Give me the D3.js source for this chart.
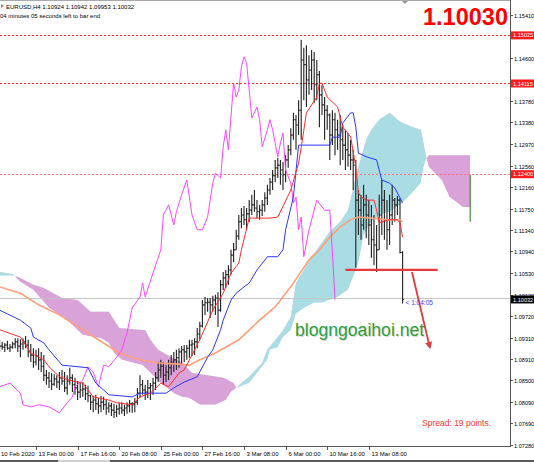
<!DOCTYPE html>
<html><head><meta charset="utf-8">
<script src="https://cdn.jsdelivr.net/npm/d3@7"></script>
<style>html,body{margin:0;padding:0;background:#fff;overflow:hidden}</style>
</head><body><svg id="c" width="534" height="462"></svg>
<script>
// ---------- DATA ----------
// H4 bars, index 0..155 : [open, high, low, close]
const bars = [
[1.0919,1.0927,1.0904,1.0915],[1.0915,1.0923,1.0908,1.0913],[1.0913,1.0921,1.0904,1.0917],[1.0917,1.0925,1.0908,1.0911],
[1.0911,1.0919,1.0904,1.0913],[1.0913,1.0923,1.0910,1.0919],[1.0919,1.0930,1.0911,1.0923],[1.0923,1.0930,1.0904,1.0915],
[1.0915,1.0928,1.0894,1.0919],[1.0919,1.0930,1.0908,1.0923],[1.0923,1.0934,1.0911,1.0917],[1.0917,1.0927,1.0894,1.0904],
[1.0904,1.0919,1.0885,1.0898],[1.0898,1.0911,1.0874,1.0885],[1.0885,1.0908,1.0879,1.0896],[1.0896,1.0911,1.0870,1.0889],
[1.0889,1.0904,1.0866,1.0877],[1.0877,1.0898,1.0849,1.0860],[1.0860,1.0870,1.0842,1.0855],[1.0855,1.0866,1.0836,1.0849],
[1.0849,1.0864,1.0832,1.0843],[1.0843,1.0862,1.0840,1.0853],[1.0853,1.0860,1.0836,1.0847],[1.0847,1.0866,1.0832,1.0855],
[1.0855,1.0870,1.0842,1.0849],[1.0849,1.0866,1.0828,1.0836],[1.0836,1.0860,1.0823,1.0849],[1.0849,1.0874,1.0842,1.0855],
[1.0855,1.0862,1.0828,1.0842],[1.0842,1.0855,1.0823,1.0836],[1.0836,1.0849,1.0813,1.0828],[1.0828,1.0845,1.0817,1.0832],
[1.0832,1.0847,1.0819,1.0834],[1.0834,1.0842,1.0813,1.0825],[1.0825,1.0840,1.0809,1.0821],[1.0821,1.0823,1.0794,1.0809],
[1.0809,1.0821,1.0790,1.0813],[1.0813,1.0823,1.0794,1.0806],[1.0806,1.0817,1.0787,1.0802],[1.0802,1.0821,1.0790,1.0809],
[1.0809,1.0819,1.0794,1.0804],[1.0804,1.0813,1.0785,1.0798],[1.0798,1.0809,1.0789,1.0802],[1.0802,1.0808,1.0783,1.0794],
[1.0794,1.0806,1.0779,1.0790],[1.0790,1.0804,1.0781,1.0796],[1.0796,1.0808,1.0785,1.0798],[1.0798,1.0809,1.0787,1.0794],
[1.0794,1.0804,1.0783,1.0798],[1.0798,1.0809,1.0787,1.0802],[1.0802,1.0813,1.0790,1.0806],[1.0806,1.0809,1.0789,1.0804],
[1.0804,1.0817,1.0790,1.0809],[1.0809,1.0836,1.0804,1.0826],[1.0826,1.0860,1.0817,1.0842],[1.0842,1.0851,1.0823,1.0832],
[1.0832,1.0842,1.0813,1.0828],[1.0828,1.0851,1.0817,1.0836],[1.0836,1.0845,1.0813,1.0840],[1.0840,1.0855,1.0823,1.0845],
[1.0845,1.0866,1.0832,1.0855],[1.0855,1.0885,1.0847,1.0870],[1.0870,1.0889,1.0855,1.0877],[1.0877,1.0885,1.0842,1.0860],
[1.0860,1.0879,1.0847,1.0866],[1.0866,1.0889,1.0851,1.0874],[1.0874,1.0898,1.0860,1.0885],[1.0885,1.0904,1.0866,1.0889],
[1.0889,1.0908,1.0870,1.0893],[1.0893,1.0911,1.0874,1.0904],[1.0904,1.0915,1.0879,1.0908],[1.0908,1.0917,1.0885,1.0904],
[1.0904,1.0917,1.0889,1.0911],[1.0911,1.0927,1.0893,1.0917],[1.0917,1.0927,1.0896,1.0919],[1.0919,1.0930,1.0898,1.0923],
[1.0923,1.0949,1.0911,1.0938],[1.0938,1.0961,1.0927,1.0953],[1.0953,1.1002,1.0950,1.0993],[1.0993,1.1008,1.0974,1.0997],
[1.0997,1.1006,1.0980,1.0998],[1.0998,1.1006,1.0968,1.0993],[1.0993,1.1010,1.0980,1.1002],[1.1002,1.1012,1.0974,1.1006],
[1.1006,1.1017,1.0951,1.0983],[1.0983,1.1040,1.0980,1.1031],[1.1031,1.1055,1.1021,1.1044],[1.1044,1.1059,1.1025,1.1050],
[1.1050,1.1068,1.1031,1.1059],[1.1059,1.1097,1.1050,1.1087],[1.1087,1.1110,1.1074,1.1097],[1.1097,1.1135,1.1097,1.1123],
[1.1123,1.1163,1.1116,1.1150],[1.1150,1.1176,1.1138,1.1163],[1.1163,1.1180,1.1144,1.1154],[1.1154,1.1176,1.1135,1.1165],
[1.1165,1.1191,1.1150,1.1172],[1.1172,1.1201,1.1163,1.1182],[1.1182,1.1210,1.1169,1.1176],[1.1176,1.1191,1.1157,1.1169],
[1.1169,1.1182,1.1154,1.1172],[1.1172,1.1191,1.1161,1.1182],[1.1182,1.1206,1.1169,1.1195],[1.1195,1.1220,1.1182,1.1210],
[1.1210,1.1233,1.1201,1.1225],[1.1225,1.1248,1.1210,1.1237],[1.1237,1.1267,1.1225,1.1252],[1.1252,1.1271,1.1233,1.1257],
[1.1257,1.1267,1.1220,1.1248],[1.1248,1.1263,1.1210,1.1239],[1.1239,1.1276,1.1225,1.1267],[1.1267,1.1295,1.1252,1.1286],
[1.1286,1.1327,1.1276,1.1314],[1.1314,1.1356,1.1305,1.1343],[1.1343,1.1352,1.1286,1.1333],[1.1333,1.1380,1.1314,1.1361],
[1.1361,1.1494,1.1305,1.1456],[1.1456,1.1479,1.1380,1.1447],[1.1447,1.1484,1.1367,1.1418],[1.1418,1.1465,1.1390,1.1437],
[1.1437,1.1475,1.1399,1.1456],[1.1456,1.1471,1.1375,1.1409],[1.1409,1.1456,1.1380,1.1428],[1.1428,1.1435,1.1329,1.1390],
[1.1390,1.1409,1.1352,1.1371],[1.1371,1.1386,1.1305,1.1361],[1.1361,1.1371,1.1324,1.1352],[1.1352,1.1355,1.1267,1.1314],
[1.1314,1.1361,1.1295,1.1343],[1.1343,1.1356,1.1276,1.1324],[1.1324,1.1343,1.1286,1.1314],[1.1314,1.1352,1.1257,1.1305],
[1.1305,1.1333,1.1267,1.1295],[1.1295,1.1324,1.1248,1.1286],[1.1286,1.1318,1.1254,1.1276],[1.1276,1.1305,1.1248,1.1267],
[1.1267,1.1286,1.1210,1.1257],[1.1257,1.1267,1.1063,1.1191],[1.1191,1.1210,1.1125,1.1172],[1.1172,1.1201,1.1116,1.1144],
[1.1144,1.1220,1.1135,1.1182],[1.1182,1.1201,1.1119,1.1163],[1.1163,1.1191,1.1106,1.1144],[1.1144,1.1182,1.1082,1.1116],
[1.1116,1.1163,1.1068,1.1106],[1.1106,1.1144,1.1055,1.1097],[1.1097,1.1201,1.1097,1.1163],[1.1163,1.1229,1.1125,1.1191],
[1.1191,1.1210,1.1116,1.1154],[1.1154,1.1191,1.1097,1.1135],[1.1135,1.1201,1.1106,1.1163],[1.1163,1.1220,1.1144,1.1191],
[1.1191,1.1195,1.1150,1.1182],[1.1182,1.1199,1.1163,1.1191],[1.1191,1.1195,1.1090,1.1092],[1.10924,1.10942,1.09953,1.10032]
];
// Ichimoku & MA readings: [barIndex, price]
const tenkan = [[0,1.0946],[8,1.0932],[12,1.0902],[17,1.0889],[19,1.0876],[23,1.0857],[28,1.0849],[32,1.0845],[36,1.0819],[42,1.0813],[45,1.0808],[51,1.0804],[54,1.0819],[58,1.0826],[62,1.0845],[65,1.0838],[69,1.0864],[71,1.0870],[77,1.0927],[82,1.0983],[86,1.1015],[89,1.1053],[92,1.1072],[93,1.1097],[96,1.1157],[104,1.1157],[107,1.1159],[112,1.1210],[115,1.1261],[116,1.1290],[118,1.1356],[122,1.1386],[123,1.1412],[124,1.1412],[126,1.1386],[130,1.1367],[132,1.1329],[135,1.1311],[137,1.1254],[138,1.1205],[139,1.1197],[141,1.1191],[144,1.1191],[145,1.1172],[146,1.1148],[150,1.1154],[153,1.1154],[154,1.1148],[155,1.1121]];
const kijun = [[0,1.0983],[8,1.0964],[12,1.0949],[13,1.0932],[17,1.0921],[19,1.0908],[24,1.0879],[34,1.0874],[37,1.0845],[40,1.0832],[42,1.0823],[51,1.0819],[54,1.0826],[64,1.0826],[67,1.0836],[71,1.0847],[76,1.0857],[80,1.0894],[82,1.0908],[85,1.0946],[86,1.0964],[89,1.1002],[91,1.1015],[94,1.1027],[96,1.1034],[99,1.1059],[103,1.1084],[107,1.1084],[109,1.1097],[110,1.1135],[113,1.1197],[115,1.1295],[127,1.1295],[128,1.1310],[131,1.1310],[132,1.1337],[135,1.1356],[136,1.1356],[137,1.1329],[138,1.1280],[141,1.1273],[145,1.1267],[146,1.1248],[147,1.1229],[150,1.1223],[152,1.1214],[155,1.1186]];
const chikou = [[0,1.0838],[4,1.0845],[8,1.0826],[9,1.0804],[12,1.0800],[15,1.0804],[19,1.0800],[23,1.0789],[26,1.0808],[28,1.0819],[29,1.0838],[32,1.0851],[34,1.0876],[36,1.0866],[38,1.0838],[40,1.0879],[42,1.0876],[45,1.0894],[47,1.0908],[49,1.0940],[51,1.0987],[54,1.1008],[55,1.1034],[56,1.1008],[59,1.1053],[62,1.1097],[63,1.1163],[65,1.1182],[67,1.1144],[68,1.1169],[70,1.1201],[72,1.1229],[74,1.1163],[76,1.1135],[78,1.1135],[80,1.1159],[82,1.1223],[83,1.1242],[85,1.1233],[86,1.1292],[87,1.1324],[88,1.1286],[90,1.1412],[91,1.1386],[92,1.1399],[93,1.1443],[94,1.1462],[95,1.1450],[96,1.1399],[97,1.1346],[99,1.1367],[100,1.1343],[101,1.1292],[103,1.1324],[104,1.1343],[105,1.1324],[107,1.1273],[108,1.1299],[109,1.1318],[110,1.1248],[112,1.1223],[113,1.1186],[114,1.1197],[115,1.1135],[116,1.1159],[117,1.1084],[119,1.1135],[122,1.1191],[125,1.1172],[127,1.1172],[128,1.1093],[129,1.1003]];
const maSlow = [[0,1.1027],[8,1.1015],[15,1.0993],[23,1.0974],[31,1.0949],[38,1.0927],[46,1.0902],[54,1.0889],[61,1.0883],[69,1.0881],[73,1.0879],[77,1.0889],[83,1.0902],[92,1.0927],[100,1.0964],[106,1.0989],[113,1.1034],[119,1.1078],[123,1.1097],[127,1.1121],[131,1.1140],[135,1.1154],[138,1.1159],[143,1.1157],[149,1.1154],[154,1.1154],[155,1.1150]];
const senkouA = [[0,1.1055],[5,1.1051],[8,1.1036],[13,1.1021],[19,1.0987],[26,1.0964],[32,1.0936],[39,1.0930],[42,1.0921],[44,1.0902],[47,1.0889],[55,1.0879],[62,1.0845],[67,1.0826],[70,1.0819],[73,1.0817],[77,1.0804],[83,1.0804],[87,1.0813],[89,1.0828],[91,1.0836],[93,1.0845],[96,1.0857],[101,1.0883],[103,1.0908],[107,1.0932],[109,1.0945],[112,1.0970],[114,1.1034],[117,1.1059],[120,1.1084],[122,1.1097],[127,1.1131],[131,1.1150],[134,1.1172],[135,1.1191],[137,1.1235],[141,1.1305],[143,1.1324],[146,1.1343],[150,1.1356],[153,1.1343],[155,1.1337],[159,1.1329],[162,1.1324],[163,1.1299],[164,1.1273],[165,1.1254],[170,1.1229],[173,1.1197],[176,1.1186],[178,1.1178],[181,1.1178]];
const senkouB = [[0,1.1048],[5,1.1048],[7,1.1046],[13,1.1031],[17,1.1025],[24,1.1006],[30,1.1002],[35,1.0980],[42,1.0980],[46,1.0949],[56,1.0945],[58,1.0927],[61,1.0908],[66,1.0894],[70,1.0885],[74,1.0864],[80,1.0860],[86,1.0855],[90,1.0845],[91,1.0836],[96,1.0845],[103,1.0889],[104,1.0908],[107,1.0913],[109,1.0932],[112,1.0945],[114,1.0976],[117,1.0987],[121,1.0997],[124,1.0997],[130,1.1008],[134,1.1021],[136,1.1046],[138,1.1072],[139,1.1097],[140,1.1125],[143,1.1150],[146,1.1163],[150,1.1169],[154,1.1182],[158,1.1201],[162,1.1223],[163,1.1252],[164,1.1267],[165,1.1276],[180,1.1276],[181,1.1276]];
const senkouTail = [[181,1.1239],[181,1.1150]];
// levels
const levelLines = [1.15025, 1.14115];
const levelDotted = [1.12400];
const currentPrice = 1.10032;
const bigPrice = "1.10030";
const priceTicks = ["1.15410","1.14600","1.13780","1.13380","1.12970","1.12560","1.12160","1.11750","1.11340","1.10940","1.10530","1.10120","1.09720","1.09310","1.08910","1.08500","1.08090","1.07690","1.07280"];
const timeTickIdx = [-2,14,30,46,62,78,94,110,126,142];
const timeLabels = ["10 Feb 2020","13 Feb 00:00","17 Feb 16:00","20 Feb 08:00","25 Feb 00:00","27 Feb 16:00","3 Mar 08:00","6 Mar 00:00","10 Mar 16:00","13 Mar 08:00"];
const supportLine = [[133,1.1059],[168.5,1.1059]];
const arrowLine = [[158.6,1.1055],[165.5,1.0912]];

// ---------- DRAW ----------
const svg = d3.select("#c");
const x = d3.scaleLinear().domain([0,155]).range([-0.4,402.6]);
const y = d3.scaleLinear().domain([1.15410,1.07280]).range([15,445]);
const PR = 510, PB = 446;
const FONT = "'Liberation Sans', Arial, sans-serif";

const defs = svg.append("defs");
defs.append("clipPath").attr("id","plot").append("rect").attr("x",0).attr("y",0).attr("width",PR).attr("height",PB);
const P = d3.line().x(d=>x(d[0])).y(d=>y(d[1]));
const rawLine = d3.line();
const Apts = senkouA.map(d=>[x(d[0]),y(d[1])]);
const Bpts = senkouB.map(d=>[x(d[0]),y(d[1])]);
const poly = rawLine(Apts.concat(Bpts.slice().reverse()))+"Z";
defs.append("clipPath").attr("id","aboveB").append("path")
  .attr("d", rawLine([[Bpts[0][0],-10]].concat(Bpts,[[Bpts[Bpts.length-1][0],-10]]))+"Z");
defs.append("clipPath").attr("id","aboveA").append("path")
  .attr("d", rawLine([[Apts[0][0],-10]].concat(Apts,[[Apts[Apts.length-1][0],-10]]))+"Z");
const mk = defs.append("marker").attr("id","ah").attr("viewBox","0 0 10 10").attr("refX",8).attr("refY",5)
  .attr("markerWidth",4).attr("markerHeight",4).attr("orient","auto");
mk.append("path").attr("d","M0,0L10,5L0,10Z").attr("fill","#e8383c");

svg.append("rect").attr("width",534).attr("height",462).attr("fill","#fff");
const plot = svg.append("g").attr("clip-path","url(#plot)");

// cloud
const cl = plot.append("g");
cl.append("g").attr("clip-path","url(#aboveB)").append("path").attr("d",poly).attr("fill","#a9dce3");
cl.append("g").attr("clip-path","url(#aboveA)").append("path").attr("d",poly).attr("fill","#d9a2d9");

// horizontal levels
plot.selectAll(".lvl").data(levelLines).join("line").attr("x1",0).attr("x2",PR)
  .attr("y1",d=>Math.round(y(d))+0.5).attr("y2",d=>Math.round(y(d))+0.5)
  .attr("stroke","#ff2020").attr("stroke-dasharray","2,2").attr("stroke-width",1);
plot.selectAll(".lvd").data(levelDotted).join("line").attr("x1",0).attr("x2",PR)
  .attr("y1",d=>Math.round(y(d))+0.5).attr("y2",d=>Math.round(y(d))+0.5)
  .attr("stroke","#ff7070").attr("stroke-dasharray","2,2").attr("stroke-width",1.2);
plot.append("line").attr("x1",0).attr("x2",PR).attr("y1",Math.round(y(currentPrice))-0.5).attr("y2",Math.round(y(currentPrice))-0.5)
  .attr("stroke","#c4c4c4").attr("stroke-width",1);

// bars
const bg = plot.append("g").attr("stroke","#1e1e1e").attr("stroke-width",1.1);
bg.selectAll(".hl").data(bars).join("line").attr("x1",(d,i)=>x(i)).attr("x2",(d,i)=>x(i)).attr("y1",d=>y(d[1])).attr("y2",d=>y(d[2]));
bg.selectAll(".op").data(bars).join("line").attr("x1",(d,i)=>x(i)-1.3).attr("x2",(d,i)=>x(i)).attr("y1",d=>y(d[0])).attr("y2",d=>y(d[0]));
bg.selectAll(".cp").data(bars).join("line").attr("x1",(d,i)=>x(i)).attr("x2",(d,i)=>x(i)+1.3).attr("y1",d=>y(d[3])).attr("y2",d=>y(d[3]));

// lines
const addLine = (data,color,w)=>plot.append("path").attr("d",P(data)).attr("fill","none").attr("stroke",color).attr("stroke-width",w);
addLine(maSlow,"#ff9f78",1.6);
addLine(chikou,"#ff44ff",1);
addLine(kijun,"#2b35ff",1);
addLine(tenkan,"#ff2a2a",1);
addLine(senkouTail,"#3d8a3d",1.2);

// user lines
plot.append("path").attr("d",P(supportLine)).attr("stroke","#e8383c").attr("stroke-width",2.2).attr("fill","none");
plot.append("path").attr("d",P(arrowLine)).attr("stroke","#e8383c").attr("stroke-width",1.8).attr("fill","none").attr("marker-end","url(#ah)");

// timer text next to last bar
plot.append("text").attr("x",x(155)+3).attr("y",y(currentPrice)+6).attr("font-family",FONT).attr("font-size",6.5)
  .attr("fill","#3a3aff").text("< 1:04:05");

// watermark
plot.append("text").attr("x",295).attr("y",336).attr("font-family",FONT).attr("font-size",17.6).attr("fill","#999").attr("opacity",0.35).text("blogngoaihoi.net").attr("transform","translate(1,1)");
plot.append("text").attr("x",295).attr("y",336).attr("font-family",FONT).attr("font-size",17.6).attr("fill","#2f9e3c").text("blogngoaihoi.net");

// spread
plot.append("text").attr("x",422).attr("y",426).attr("font-family",FONT).attr("font-size",8.5).attr("fill","#ff3030").text("Spread:  19 points.");

// top-left info
const last = bars[bars.length-1];
svg.append("path").attr("d","M1,4L4,6L1,8Z").attr("fill","#888");
svg.append("text").attr("x",6).attr("y",9).attr("font-family",FONT).attr("font-size",6).attr("fill","#000")
  .text("EURUSD,H4  " + last.map(v=>v.toFixed(5)).join(" "));
svg.append("text").attr("x",0).attr("y",17.5).attr("font-family",FONT).attr("font-size",6).attr("fill","#000")
  .text("04 minutes 05 seconds left to bar end");

// big price
svg.append("text").attr("x",423).attr("y",25).attr("font-family",FONT).attr("font-weight","bold")
  .attr("font-size",23.5).attr("fill","#ff0000").text(bigPrice);

// frame
svg.append("line").attr("x1",0).attr("x2",PR).attr("y1",0.5).attr("y2",0.5).attr("stroke","#aaa");
svg.append("path").attr("d","M402,1L408,1L405,4Z").attr("fill","#999");
svg.append("line").attr("x1",PR+0.5).attr("x2",PR+0.5).attr("y1",0).attr("y2",PB+1).attr("stroke","#555");
svg.append("line").attr("x1",0).attr("x2",PR+1).attr("y1",PB+0.5).attr("y2",PB+0.5).attr("stroke","#555");

// price axis
const pa = svg.append("g");
priceTicks.forEach(t=>{
  const yy = Math.round(y(+t))+0.5;
  pa.append("line").attr("x1",PR).attr("x2",PR+3).attr("y1",yy).attr("y2",yy).attr("stroke","#555");
  pa.append("text").attr("x",PR+4).attr("y",yy+2.1).attr("font-family",FONT).attr("font-size",5.6).attr("fill","#000").text(t);
});
const tag = (v,label,bgc)=>{
  const yy = y(v);
  pa.append("rect").attr("x",PR+1).attr("y",yy-4).attr("width",24).attr("height",8).attr("fill",bgc);
  pa.append("text").attr("x",PR+3).attr("y",yy+2.1).attr("font-family",FONT).attr("font-size",5.6).attr("fill","#fff").text(label);
};
levelLines.concat(levelDotted).forEach(v=>tag(v,v.toFixed(5),"#ff1a1a"));
tag(currentPrice,currentPrice.toFixed(5),"#000");

// time axis
const ta = svg.append("g");
timeTickIdx.forEach((ti,k)=>{
  const xx = Math.round(x(ti))+0.5;
  ta.append("line").attr("x1",xx).attr("x2",xx).attr("y1",PB).attr("y2",PB+4).attr("stroke","#555");
  ta.append("text").attr("x",Math.max(xx+2,1)).attr("y",455.5).attr("font-family",FONT).attr("font-size",6).attr("fill","#000").text(timeLabels[k]);
});
// bottom strip
svg.append("rect").attr("x",0).attr("y",460).attr("width",534).attr("height",2).attr("fill","#5a5a5a");
svg.append("rect").attr("x",58).attr("y",460).attr("width",52).attr("height",2).attr("fill","#d0d0d0");
</script></body></html>
